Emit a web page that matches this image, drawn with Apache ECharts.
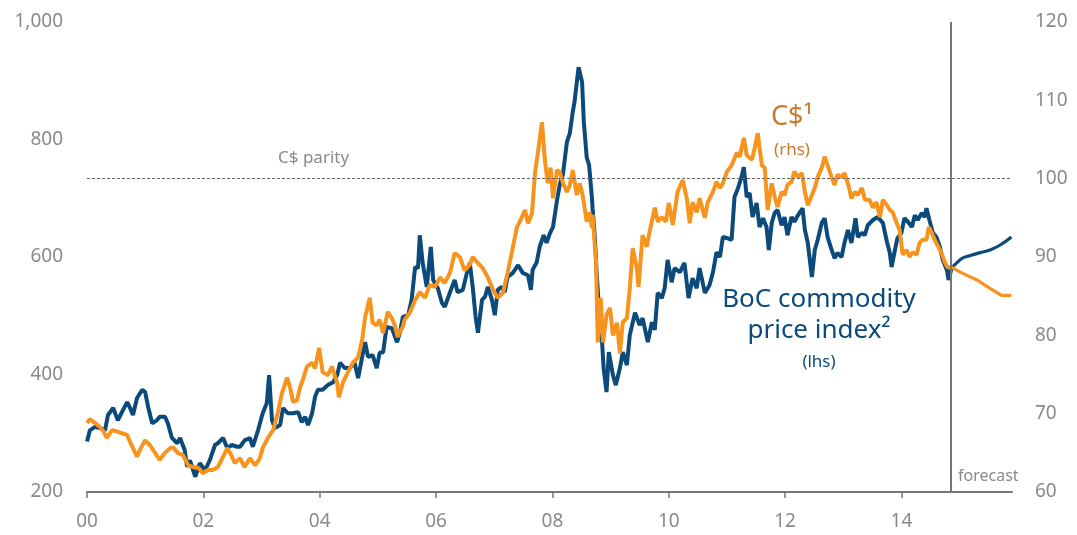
<!DOCTYPE html>
<html>
<head>
<meta charset="utf-8">
<script src="https://cdn.jsdelivr.net/npm/echarts@6/dist/echarts.min.js"></script>
<style>
html,body{margin:0;padding:0;background:#fff;}
#chart{width:1077px;height:535px;}
</style>
</head>
<body>
<div id="chart"></div>
<script>
// Bank of Canada commodity price index (lhs)
const bocYears = [2000.00,2000.05,2000.14,2000.22,2000.31,2000.36,2000.45,2000.53,2000.60,2000.69,2000.74,2000.79,2000.86,2000.95,2001.00,2001.05,2001.12,2001.20,2001.25,2001.34,2001.39,2001.46,2001.55,2001.60,2001.68,2001.72,2001.77,2001.86,2001.94,2002.03,2002.11,2002.20,2002.25,2002.34,2002.41,2002.49,2002.58,2002.63,2002.71,2002.80,2002.85,2002.94,2003.02,2003.09,2003.13,2003.18,2003.23,2003.32,2003.37,2003.45,2003.54,2003.63,2003.69,2003.75,2003.80,2003.87,2003.92,2003.97,2004.05,2004.14,2004.23,2004.30,2004.35,2004.43,2004.52,2004.60,2004.66,2004.73,2004.78,2004.83,2004.91,2004.98,2005.03,2005.09,2005.15,2005.24,2005.33,2005.38,2005.43,2005.52,2005.58,2005.64,2005.69,2005.72,2005.77,2005.84,2005.91,2005.95,2006.03,2006.10,2006.15,2006.24,2006.32,2006.37,2006.46,2006.53,2006.58,2006.63,2006.68,2006.72,2006.79,2006.84,2006.89,2006.96,2007.01,2007.06,2007.13,2007.18,2007.23,2007.32,2007.41,2007.49,2007.58,2007.63,2007.66,2007.73,2007.78,2007.85,2007.90,2007.96,2008.01,2008.08,2008.13,2008.18,2008.25,2008.30,2008.35,2008.38,2008.42,2008.45,2008.51,2008.54,2008.59,2008.63,2008.68,2008.69,2008.73,2008.76,2008.80,2008.85,2008.88,2008.93,2008.97,2009.04,2009.09,2009.16,2009.21,2009.28,2009.33,2009.42,2009.50,2009.55,2009.64,2009.71,2009.76,2009.81,2009.88,2009.93,2009.98,2010.05,2010.10,2010.19,2010.27,2010.34,2010.41,2010.48,2010.53,2010.62,2010.70,2010.76,2010.82,2010.88,2010.93,2011.01,2011.08,2011.13,2011.19,2011.25,2011.29,2011.34,2011.39,2011.44,2011.51,2011.56,2011.62,2011.68,2011.72,2011.77,2011.82,2011.87,2011.94,2011.99,2012.04,2012.11,2012.16,2012.22,2012.30,2012.34,2012.39,2012.46,2012.51,2012.56,2012.63,2012.68,2012.73,2012.80,2012.85,2012.90,2012.97,2013.02,2013.08,2013.14,2013.21,2013.25,2013.32,2013.37,2013.42,2013.51,2013.59,2013.68,2013.75,2013.80,2013.83,2013.88,2013.93,2014.00,2014.05,2014.11,2014.18,2014.23,2014.28,2014.35,2014.40,2014.43,2014.48,2014.54,2014.60,2014.66,2014.71,2014.78,2014.81,2014.86];
const bocIndex = [286,305,311,309,305,331,343,322,336,353,343,331,360,374,370,345,317,322,328,328,317,292,283,292,271,243,254,226,249,237,254,280,283,292,275,280,277,277,288,292,277,305,334,351,399,322,309,314,343,334,334,336,319,328,314,334,362,374,374,382,387,399,420,411,411,420,394,430,455,430,433,411,437,438,481,479,455,472,498,501,527,583,581,637,590,549,617,561,547,522,515,540,561,540,544,573,590,549,498,471,527,532,549,527,501,544,549,540,566,573,586,573,569,544,578,591,617,637,624,641,651,697,725,740,796,811,847,864,898,923,898,830,769,757,700,683,632,574,513,462,411,370,438,399,382,411,438,416,467,505,484,496,455,489,476,539,530,547,595,557,581,574,590,530,564,547,581,539,552,574,608,600,634,632,629,702,717,736,753,702,709,668,692,651,666,651,612,658,675,680,654,668,637,668,660,671,683,646,624,566,612,629,658,666,634,612,598,607,600,624,646,624,666,634,641,637,654,663,668,658,626,607,583,608,632,641,666,660,651,671,663,675,668,683,663,641,634,617,595,578,561,581];
const bocFcYears = [2014.86,2014.95,2015.05,2015.17,2015.34,2015.52,2015.69,2015.89];
const bocFcIndex = [581,590,598,602,607,612,620,634];

// Canadian dollar, US cents (rhs)
const cadYears = [2000.00,2000.05,2000.14,2000.22,2000.27,2000.34,2000.43,2000.52,2000.60,2000.69,2000.74,2000.79,2000.86,2000.91,2001.00,2001.08,2001.17,2001.25,2001.34,2001.43,2001.48,2001.56,2001.65,2001.74,2001.82,2001.91,2001.99,2002.08,2002.16,2002.25,2002.34,2002.41,2002.46,2002.54,2002.63,2002.71,2002.80,2002.89,2002.97,2003.02,2003.11,2003.20,2003.28,2003.35,2003.44,2003.49,2003.54,2003.61,2003.66,2003.71,2003.78,2003.87,2003.92,2003.99,2004.05,2004.14,2004.21,2004.30,2004.33,2004.40,2004.48,2004.57,2004.66,2004.73,2004.78,2004.86,2004.91,2004.98,2005.03,2005.09,2005.17,2005.24,2005.29,2005.34,2005.38,2005.43,2005.46,2005.55,2005.64,2005.72,2005.81,2005.89,2005.98,2006.07,2006.15,2006.24,2006.32,2006.41,2006.49,2006.58,2006.63,2006.72,2006.80,2006.89,2006.98,2007.06,2007.15,2007.23,2007.30,2007.39,2007.47,2007.53,2007.58,2007.65,2007.70,2007.75,2007.82,2007.87,2007.92,2007.97,2008.01,2008.08,2008.13,2008.18,2008.25,2008.30,2008.35,2008.42,2008.47,2008.52,2008.59,2008.64,2008.68,2008.69,2008.75,2008.78,2008.83,2008.87,2008.93,2008.99,2009.04,2009.11,2009.16,2009.21,2009.28,2009.33,2009.38,2009.45,2009.48,2009.55,2009.62,2009.67,2009.76,2009.81,2009.88,2009.95,2010.00,2010.07,2010.15,2010.24,2010.31,2010.36,2010.41,2010.48,2010.53,2010.62,2010.67,2010.76,2010.82,2010.88,2010.93,2011.00,2011.08,2011.17,2011.22,2011.29,2011.34,2011.43,2011.48,2011.53,2011.60,2011.65,2011.70,2011.77,2011.82,2011.87,2011.94,2011.99,2012.04,2012.11,2012.16,2012.22,2012.29,2012.34,2012.39,2012.46,2012.51,2012.56,2012.63,2012.68,2012.73,2012.80,2012.85,2012.90,2012.97,2013.02,2013.08,2013.14,2013.20,2013.25,2013.32,2013.37,2013.45,2013.51,2013.57,2013.63,2013.68,2013.75,2013.80,2013.85,2013.92,2013.97,2014.02,2014.09,2014.14,2014.19,2014.26,2014.31,2014.36,2014.43,2014.47,2014.52,2014.57,2014.62,2014.69,2014.74,2014.79,2014.86];
const cadValues = [68.8,69.3,68.8,68.3,67.9,66.9,67.9,67.7,67.5,67.3,66.4,65.6,64.5,65.4,66.6,66.0,65.0,64.1,65.0,65.6,65.7,65.0,64.7,63.4,63.2,63.1,62.4,62.8,62.8,63.2,64.5,65.6,65.0,63.7,64.3,63.2,64.3,63.4,64.3,65.6,66.9,67.9,70.1,72.6,74.6,73.4,71.5,71.7,73.3,74.3,76.0,76.5,75.8,78.4,75.3,74.9,76.0,73.9,72.1,74.0,75.2,76.5,77.2,79.4,82.3,84.8,81.6,81.3,82.0,80.3,83.0,82.2,81.3,79.8,80.5,81.1,82.0,82.9,84.5,85.5,84.8,86.4,86.2,87.4,86.7,88.0,90.5,90.0,88.3,89.0,90.0,89.2,88.6,87.4,85.8,84.8,85.4,88.0,90.5,93.8,95.0,96.0,94.3,95.6,100.7,103.3,107.2,102.4,99.4,101.4,97.5,101.1,100.8,99.5,98.3,99.2,101.1,97.9,99.4,97.9,94.5,95.7,93.7,95.4,89.4,79.1,84.8,79.1,82.6,83.5,80.0,81.6,77.7,81.7,82.2,86.0,91.1,88.6,86.2,92.8,91.3,93.2,96.3,94.5,95.1,94.5,96.9,94.1,98.3,99.8,97.5,94.3,97.0,95.7,97.5,95.0,97.0,98.3,99.6,98.8,99.4,100.9,101.7,103.3,102.8,105.2,103.0,102.4,104.0,105.8,101.7,101.4,96.0,99.4,97.7,96.4,98.3,97.9,99.2,99.6,100.9,100.2,100.7,98.3,96.6,97.9,98.8,100.2,101.4,102.8,101.7,100.2,99.2,100.5,100.2,100.7,99.4,97.5,98.3,97.9,98.8,97.3,97.3,96.3,97.0,95.1,97.3,96.6,96.0,95.7,94.3,93.4,90.3,90.9,90.0,90.6,90.3,91.8,92.2,92.2,93.8,93.1,92.2,91.5,90.5,89.4,88.7,88.7];
const cadFcYears = [2014.86,2015.00,2015.29,2015.52,2015.72,2015.89];
const cadFcValues = [88.7,88.1,87.1,86.0,85.1,85.1];

const xTickYears = [2000,2002,2004,2006,2008,2010,2012,2014];
const forecastStart = 2014.85;
const parityLevel = 100;

const BLUE = '#0b4a7b';
const ORANGE = '#f7941d';
const GREY = '#8a8a8a';
const FONT = 'Noto Sans';

function pairs(xs, ys){ return xs.map((x,i)=>[x, ys[i]]); }

const chart = echarts.init(document.getElementById('chart'));
chart.setOption({
  animation: false,
  backgroundColor: '#fff',
  textStyle: { fontFamily: FONT },
  grid: { left: 87, right: 65, top: 22, bottom: 43, containLabel: false },
  xAxis: {
    type: 'value', min: 2000, max: 2015.9, interval: 2,
    axisLine: { show: true, lineStyle: { color: '#777', width: 2 } },
    axisTick: { show: true, length: 6, lineStyle: { color: '#777', width: 1.5 }, customValues: xTickYears },
    axisLabel: { color: GREY, fontSize: 19, fontFamily: FONT, margin: 20, customValues: xTickYears,
      formatter: v => String(Math.round(v) % 100).padStart(2, '0') },
    splitLine: { show: false }
  },
  yAxis: [
    { type: 'value', min: 200, max: 1000, interval: 200, position: 'left',
      axisLine: { show: false }, axisTick: { show: false }, splitLine: { show: false },
      axisLabel: { color: GREY, fontSize: 19, fontFamily: FONT, margin: 24,
        formatter: v => v.toLocaleString('en-US') } },
    { type: 'value', min: 60, max: 120, interval: 10, position: 'right',
      axisLine: { show: false }, axisTick: { show: false }, splitLine: { show: false },
      axisLabel: { color: GREY, fontSize: 19, fontFamily: FONT, margin: 23 } }
  ],
  series: [
    { name: 'BoC commodity price index', type: 'line', yAxisIndex: 0, showSymbol: false,
      data: pairs(bocYears, bocIndex), lineStyle: { color: BLUE, width: 4 }, itemStyle: { color: BLUE },
      markLine: { silent: true, symbol: 'none', label: { show: false },
        lineStyle: { color: '#777', width: 2, type: 'solid' },
        data: [{ xAxis: forecastStart }] } },
    { name: 'BoC forecast', type: 'line', yAxisIndex: 0, showSymbol: false, smooth: true,
      data: pairs(bocFcYears, bocFcIndex), lineStyle: { color: BLUE, width: 3.2 }, itemStyle: { color: BLUE } },
    { name: 'C$', type: 'line', yAxisIndex: 1, showSymbol: false,
      data: pairs(cadYears, cadValues), lineStyle: { color: ORANGE, width: 4 }, itemStyle: { color: ORANGE },
      markLine: { silent: true, symbol: 'none', label: { show: false },
        lineStyle: { color: '#666', width: 1, type: [3, 2] },
        data: [{ yAxis: parityLevel }] } },
    { name: 'C$ forecast', type: 'line', yAxisIndex: 1, showSymbol: false,
      data: pairs(cadFcYears, cadFcValues), lineStyle: { color: ORANGE, width: 3.2 }, itemStyle: { color: ORANGE } }
  ],
  graphic: [
    { type: 'text', left: 278, top: 150, style: { text: 'C$ parity', fill: '#8a8a8a', fontSize: 17, fontFamily: FONT } },
    { type: 'text', x: 792, y: 117, style: { text: 'C$¹', fill: '#c97a2e', fontSize: 27, fontFamily: FONT, align: 'center', verticalAlign: 'middle' } },
    { type: 'text', x: 792, y: 150, style: { text: '(rhs)', fill: '#c97a2e', fontSize: 17, fontFamily: FONT, align: 'center', verticalAlign: 'middle' } },
    { type: 'text', x: 819, y: 300, style: { text: 'BoC commodity', fill: BLUE, fontSize: 26, fontFamily: FONT, align: 'center', verticalAlign: 'middle' } },
    { type: 'text', x: 819, y: 331, style: { text: 'price index²', fill: BLUE, fontSize: 26, fontFamily: FONT, align: 'center', verticalAlign: 'middle' } },
    { type: 'text', x: 819, y: 362, style: { text: '(lhs)', fill: BLUE, fontSize: 17, fontFamily: FONT, align: 'center', verticalAlign: 'middle' } },
    { type: 'text', x: 958, y: 476, style: { text: 'forecast', fill: '#8a8a8a', fontSize: 16, fontFamily: FONT, align: 'left', verticalAlign: 'middle' } }
  ]
});
</script>
</body>
</html>
